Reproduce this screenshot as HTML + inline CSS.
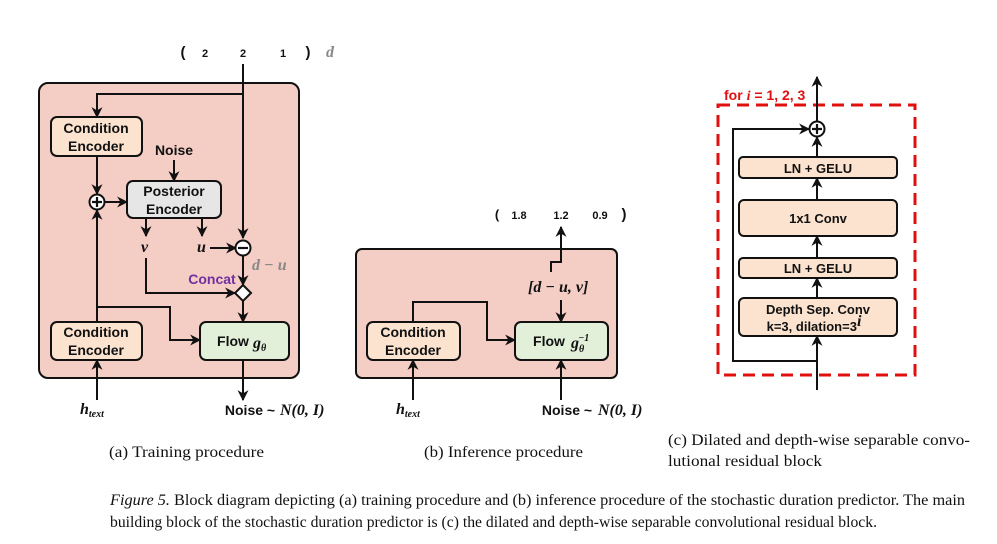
<!DOCTYPE html>
<html><head><meta charset="utf-8"><style>
body{margin:0;background:#fff}
svg{display:block}
.s{font-family:"Liberation Sans",Arial,sans-serif;font-size:14px;font-weight:bold;fill:#111}
.m{font-family:"Liberation Serif",serif;font-style:italic;font-weight:bold;font-size:16px;fill:#111}
.c{font-family:"Liberation Serif",serif;font-size:16px;fill:#111}
</style></head><body>
<svg width="997" height="544" viewBox="0 0 997 544" xmlns="http://www.w3.org/2000/svg">
<defs>
<marker id="b" viewBox="0 0 10 10" refX="9" refY="5" markerWidth="11" markerHeight="11" orient="auto" markerUnits="userSpaceOnUse"><path d="M0,0 L10,5 L0,10 L3,5 z" fill="#111"/></marker>
</defs>
<g stroke="#111" stroke-width="2" fill="none">
<rect x="39" y="83" width="260" height="295" rx="9" fill="#f4cdc5"/>
<rect x="51" y="117" width="91" height="39" rx="6" fill="#fbe3cf"/>
<rect x="127" y="181" width="94" height="37" rx="6" fill="#e6e6e6"/>
<rect x="51" y="322" width="91" height="38" rx="6" fill="#fbe3cf"/>
<rect x="200" y="322" width="89" height="38" rx="6" fill="#e2f0da"/>
<path d="M243 64 V238" marker-end="url(#b)"/>
<path d="M243 94 H97 V117" marker-end="url(#b)"/>
<path d="M97 156 V194" marker-end="url(#b)"/>
<path d="M105 202 H127" marker-end="url(#b)"/>
<path d="M174 160 V181" marker-end="url(#b)"/>
<path d="M146 218 V236" marker-end="url(#b)"/>
<path d="M202 218 V236" marker-end="url(#b)"/>
<path d="M210 248 H236" marker-end="url(#b)"/>
<path d="M243 256 V285" marker-end="url(#b)"/>
<path d="M146 258 V293 H235" marker-end="url(#b)"/>
<path d="M243 301 V322" marker-end="url(#b)"/>
<path d="M97 322 V210" marker-end="url(#b)"/>
<path d="M97 307 H170 V340 H200" marker-end="url(#b)"/>
<path d="M97 400 V360" marker-end="url(#b)"/>
<path d="M243 360 V400" marker-end="url(#b)"/>
<circle cx="97" cy="202" r="7.5" fill="#fff"/>
<circle cx="243" cy="248" r="7.5" fill="#fff"/>
<path d="M243 285 L251 293 L243 301 L235 293 Z" fill="#fff"/>
<rect x="356" y="249" width="261" height="129" rx="6" fill="#f4cdc5"/>
<rect x="367" y="322" width="93" height="38" rx="6" fill="#fbe3cf"/>
<rect x="515" y="322" width="93" height="38" rx="6" fill="#e2f0da"/>
<path d="M413 322 V302 H487 V340 H515" marker-end="url(#b)"/>
<path d="M413 400 V360" marker-end="url(#b)"/>
<path d="M561 400 V360" marker-end="url(#b)"/>
<path d="M561 300 V322" marker-end="url(#b)"/>
<path d="M551 272 V262 H561 V227" marker-end="url(#b)"/>
<rect x="718" y="105" width="197" height="270" stroke="#e01010" stroke-width="3" stroke-dasharray="12,7"/>
<rect x="739" y="157" width="158" height="21" rx="4" fill="#fbe3cf"/>
<rect x="739" y="200" width="158" height="36" rx="5" fill="#fbe3cf"/>
<rect x="739" y="258" width="158" height="20" rx="4" fill="#fbe3cf"/>
<rect x="739" y="298" width="158" height="38" rx="5" fill="#fbe3cf"/>
<path d="M817 390 V336" marker-end="url(#b)"/>
<path d="M817 298 V278" marker-end="url(#b)"/>
<path d="M817 258 V236" marker-end="url(#b)"/>
<path d="M817 200 V178" marker-end="url(#b)"/>
<path d="M817 157 V137" marker-end="url(#b)"/>
<path d="M817 121 V77" marker-end="url(#b)"/>
<path d="M817 361 H733 V129 H809" marker-end="url(#b)"/>
<circle cx="817" cy="129" r="7.5" fill="#fff"/>
</g>
<g stroke="#111" stroke-width="2.2">
<path d="M92 202 H102 M97 197 V207"/>
<path d="M238 248 H248"/>
<path d="M812 129 H822 M817 124 V134"/>
</g>
<g class="s" text-anchor="middle">
<text x="183" y="57" font-size="15">(</text><text x="205" y="57" font-size="11">2</text><text x="243" y="57" font-size="11">2</text><text x="283" y="57" font-size="11">1</text><text x="308" y="57" font-size="15">)</text>
<text x="96" y="133">Condition</text><text x="96" y="151">Encoder</text>
<text x="174" y="196">Posterior</text><text x="174" y="214">Encoder</text>
<text x="174" y="155">Noise</text>
<text x="96" y="337">Condition</text><text x="96" y="355">Encoder</text>
<text x="212" y="284" style="fill:#7030a0">Concat</text>
<text x="233" y="346">Flow</text>
<text x="250" y="415">Noise ~</text>
<text x="497" y="219" font-size="13">(</text><text x="519" y="219" font-size="11">1.8</text><text x="561" y="219" font-size="11">1.2</text><text x="600" y="219" font-size="11">0.9</text><text x="624" y="219" font-size="15">)</text>
<text x="413" y="337">Condition</text><text x="413" y="355">Encoder</text>
<text x="549" y="346">Flow</text>
<text x="567" y="415">Noise ~</text>
<text x="818" y="173" font-size="13">LN + GELU</text>
<text x="818" y="223" font-size="13">1x1 Conv</text>
<text x="818" y="273" font-size="13">LN + GELU</text>
<text x="818" y="314" font-size="13">Depth Sep. Conv</text>
<text x="814" y="331" font-size="13">k=3, dilation=3<tspan class="m" font-size="10" dy="-5">i</tspan></text>
</g>
<text x="724" y="100" class="s" style="fill:#e01010">for <tspan font-style="italic" font-family="Liberation Serif">i</tspan> = 1, 2, 3</text>
<g class="m">
<text x="326" y="57" style="fill:#888">d</text>
<text x="141" y="252">v</text><text x="197" y="252">u</text>
<text x="252" y="270" style="fill:#888">d − u</text>
<text x="253" y="348">g<tspan font-size="10" dy="3">θ</tspan></text>
<text x="80" y="414">h<tspan font-size="10" dy="3">text</tspan></text>
<text x="280" y="415">N(0, I)</text>
<text x="528" y="292">[d − u, v]</text>
<text x="571" y="348">g<tspan font-size="10" dy="4">θ</tspan><tspan font-size="10" dx="-6" dy="-11">−1</tspan></text>
<text x="396" y="414">h<tspan font-size="10" dy="3">text</tspan></text>
<text x="598" y="415">N(0, I)</text>
</g>
<g class="c">
<text x="109" y="457" textLength="155" lengthAdjust="spacingAndGlyphs">(a) Training procedure</text>
<text x="424" y="457" textLength="159" lengthAdjust="spacingAndGlyphs">(b) Inference procedure</text>
<text x="668" y="445" textLength="302" lengthAdjust="spacingAndGlyphs">(c) Dilated and depth-wise separable convo-</text>
<text x="668" y="466" textLength="154" lengthAdjust="spacingAndGlyphs">lutional residual block</text>
<text x="110" y="505" textLength="855" lengthAdjust="spacingAndGlyphs"><tspan font-style="italic">Figure 5.</tspan> Block diagram depicting (a) training procedure and (b) inference procedure of the stochastic duration predictor. The main</text>
<text x="110" y="527" textLength="767" lengthAdjust="spacingAndGlyphs">building block of the stochastic duration predictor is (c) the dilated and depth-wise separable convolutional residual block.</text>
</g>
</svg>
</body></html>
